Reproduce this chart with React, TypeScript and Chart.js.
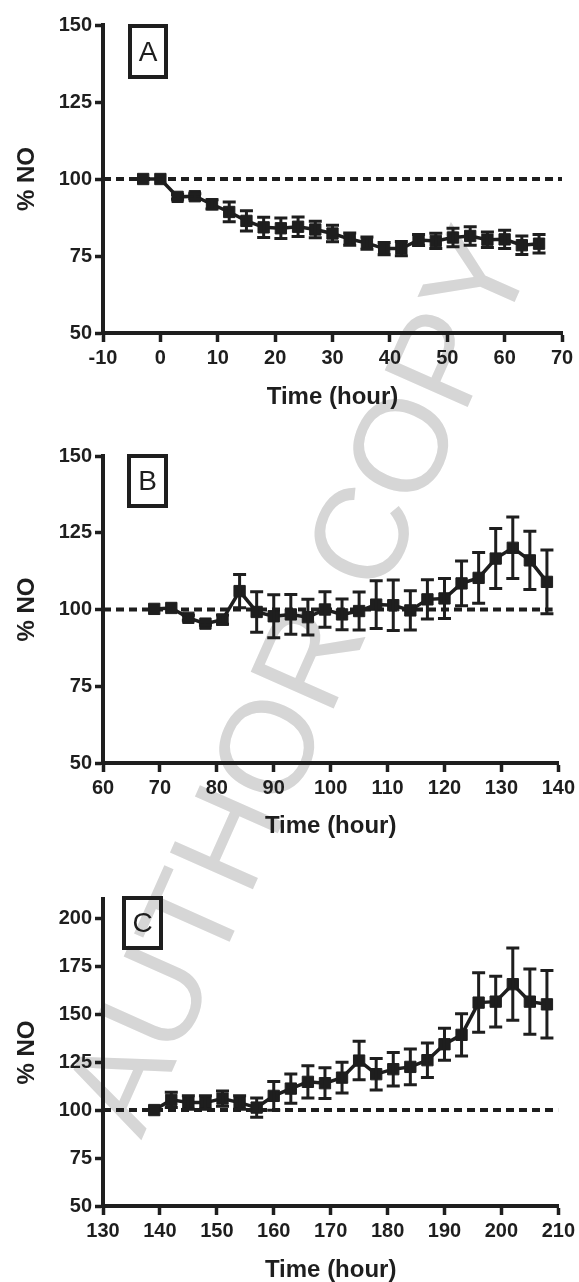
import React, { useEffect, useRef } from "react";
import { Chart, registerables } from "chart.js";

Chart.register(...registerables);

// ---------- data ----------
const timeA = [-3, 0, 3, 6, 9, 12, 15, 18, 21, 24, 27, 30, 33, 36, 39, 42, 45, 48, 51, 54, 57, 60, 63, 66];
const meanA = [100, 100, 94.2, 94.4, 91.8, 89.3, 86.4, 84.3, 84.0, 84.5, 83.6, 82.3, 80.5, 79.2, 77.4, 77.4, 80.2, 79.9, 81.0, 81.5, 80.3, 80.4, 78.5, 79.0];
const semA = [0, 0, 0.8, 0.8, 1.5, 3.2, 3.3, 3.3, 3.3, 3.2, 2.7, 2.7, 2.0, 2.0, 2.0, 2.3, 1.8, 2.5, 3.0, 3.0, 2.5, 3.0, 3.0, 3.0];

const timeB = [69, 72, 75, 78, 81, 84, 87, 90, 93, 96, 99, 102, 105, 108, 111, 114, 117, 120, 123, 126, 129, 132, 135, 138];
const meanB = [100.2, 100.5, 97.3, 95.4, 96.7, 106.0, 99.2, 97.8, 98.4, 97.5, 100.0, 98.4, 99.5, 101.6, 101.4, 99.7, 103.3, 103.6, 108.5, 110.3, 116.6, 120.1, 116.0, 109.0];
const semB = [0, 0, 0.8, 0.5, 1.5, 5.4, 6.6, 7.0, 6.5, 5.8, 5.8, 5.0, 6.2, 7.8, 8.2, 6.4, 6.4, 6.5, 7.3, 8.3, 9.8, 10.0, 9.5, 10.4];

const timeC = [139, 142, 145, 148, 151, 154, 157, 160, 163, 166, 169, 172, 175, 178, 181, 184, 187, 190, 193, 196, 199, 202, 205, 208];
const meanC = [100, 105.3, 103.9, 103.9, 106.0, 103.9, 101.3, 107.4, 111.2, 114.7, 114.0, 116.9, 125.8, 118.7, 121.3, 122.5, 126.0, 134.3, 139.2, 156.0, 156.5, 165.6, 156.5, 155.1];
const semC = [0, 4, 3.5, 3.5, 4, 3.5, 5, 7.5, 7.6, 8.4, 8, 8, 10, 8.2, 8.7, 9.3, 9, 8.3, 11, 15.5, 13.2, 18.8, 17, 17.6];

const refXA = [-10, 70];
const refXB = [60, 139];
const refXC = [130, 210];
const refLevel = 100;

const yTicksAB = [50, 75, 100, 125, 150];
const yTicksC = [50, 75, 100, 125, 150, 175, 200];

const xTitle = "Time (hour)";
const yTitle = "% NO";

// ---------- styling ----------
const INK = "#1e1e1e";
const FONT = "'Liberation Sans', Arial, Helvetica, sans-serif";

const errorBarPlugin = {
  id: "errorBars",
  afterDatasetsDraw(chart: any, _args: any, opts: any) {
    const { ctx } = chart;
    const xs = chart.scales.x;
    const ys = chart.scales.y;
    const t: number[] = opts.times || [];
    const m: number[] = opts.means || [];
    const e: number[] = opts.errs || [];
    ctx.save();
    ctx.strokeStyle = INK;
    ctx.lineWidth = 3;
    ctx.lineCap = "butt";
    for (let i = 0; i < t.length; i++) {
      if (!e[i]) continue;
      const px = xs.getPixelForValue(t[i]);
      const top = ys.getPixelForValue(m[i] + e[i]);
      const bot = ys.getPixelForValue(m[i] - e[i]);
      ctx.beginPath();
      ctx.moveTo(px, top);
      ctx.lineTo(px, bot);
      ctx.moveTo(px - 6.5, top);
      ctx.lineTo(px + 6.5, top);
      ctx.moveTo(px - 6.5, bot);
      ctx.lineTo(px + 6.5, bot);
      ctx.stroke();
    }
    ctx.restore();
  },
};

type PanelProps = {
  top: number;
  height: number;
  plotTop: number;
  plotBottom: number;
  titleY: number;
  xMin: number;
  xMax: number;
  yMin: number;
  yMax: number;
  yTicks: number[];
  times: number[];
  means: number[];
  errs: number[];
  refX: number[];
  letter: string;
  box: { left: number; top: number; w: number; h: number };
};

function Panel(p: PanelProps) {
  const ref = useRef<HTMLCanvasElement | null>(null);
  useEffect(() => {
    if (!ref.current) return;
    const padTop = p.plotTop - p.top;
    const xAxisH = p.titleY + 14.4 - p.plotBottom;
    const padBottom = p.height - (p.titleY + 14.4 - p.top);
    const tickFont = { family: FONT, size: 20, weight: "bold" as const };
    const titleFont = { family: FONT, size: 24, weight: "bold" as const };
    const chart = new Chart(ref.current, {
      type: "line",
      data: {
        datasets: [
          {
            data: p.refX.map((x) => ({ x, y: refLevel })),
            borderColor: INK,
            borderWidth: 4,
            borderDash: [8, 5],
            pointRadius: 0,
            fill: false,
            order: 2,
          },
          {
            data: p.times.map((x, i) => ({ x, y: p.means[i] })),
            borderColor: INK,
            borderWidth: 3.5,
            pointStyle: "rect",
            pointRadius: 8,
            pointBorderWidth: 1,
            pointBackgroundColor: INK,
            pointBorderColor: INK,
            fill: false,
            tension: 0,
            order: 1,
          },
        ],
      },
      options: {
        responsive: false,
        animation: false,
        devicePixelRatio: 1,
        layout: { padding: { top: padTop, right: 17, bottom: padBottom, left: 0 } },
        plugins: {
          legend: { display: false },
          tooltip: { enabled: false },
          errorBars: { times: p.times, means: p.means, errs: p.errs },
        } as any,
        scales: {
          x: {
            type: "linear",
            min: p.xMin,
            max: p.xMax,
            ticks: { stepSize: 10, color: INK, font: tickFont, padding: 4, maxRotation: 0 },
            grid: {
              drawOnChartArea: false,
              drawTicks: true,
              tickLength: 9,
              tickWidth: 3.5,
              tickColor: INK,
            },
            border: { display: true, color: INK, width: 4 },
            title: { display: true, text: xTitle, color: INK, font: titleFont, padding: { top: 0, bottom: 0 } },
            afterFit: (s: any) => {
              s.height = xAxisH;
            },
          },
          y: {
            type: "linear",
            min: p.yMin,
            max: p.yMax,
            afterBuildTicks: (s: any) => {
              s.ticks = p.yTicks.map((v) => ({ value: v }));
            },
            ticks: { color: INK, font: tickFont, padding: 3 },
            grid: {
              drawOnChartArea: false,
              drawTicks: true,
              tickLength: 8,
              tickWidth: 3.5,
              tickColor: INK,
            },
            border: { display: true, color: INK, width: 4 },
            title: { display: true, text: yTitle, color: INK, font: titleFont, padding: { top: 13, bottom: 0 } },
            afterFit: (s: any) => {
              s.width = 103;
            },
          },
        },
      } as any,
      plugins: [errorBarPlugin],
    });
    return () => chart.destroy();
  }, []);

  return (
    <>
      <canvas
        ref={ref}
        width={579}
        height={p.height}
        style={{ position: "absolute", left: 0, top: p.top, width: 579, height: p.height, zIndex: 1, display: "block" }}
      />
      <div
        style={{
          position: "absolute",
          left: p.box.left,
          top: p.box.top,
          width: p.box.w,
          height: p.box.h,
          border: `4px solid ${INK}`,
          boxSizing: "border-box",
          display: "flex",
          alignItems: "center",
          justifyContent: "center",
          fontFamily: FONT,
          fontSize: 28,
          color: INK,
          zIndex: 2,
          lineHeight: 1,
        }}
      >
        {p.letter}
      </div>
    </>
  );
}

export default function App() {
  return (
    <div style={{ position: "absolute", left: 0, top: 0, width: 579, height: 1282, background: "#fff", overflow: "hidden" }}>
      <div
        style={{
          position: "absolute",
          left: 297,
          top: 680,
          transform: "translate(-50%, -50%) rotate(-66deg)",
          fontFamily: FONT,
          fontSize: 132,
          color: "#d6d6d6",
          whiteSpace: "nowrap",
          zIndex: 0,
          lineHeight: 1,
        }}
      >
        AUTHOR COPY
      </div>
      <Panel
        top={0}
        height={425}
        plotTop={25}
        plotBottom={333}
        titleY={397}
        xMin={-10}
        xMax={70}
        yMin={50}
        yMax={150}
        yTicks={yTicksAB}
        times={timeA}
        means={meanA}
        errs={semA}
        refX={refXA}
        letter="A"
        box={{ left: 128, top: 24, w: 40, h: 55 }}
      />
      <Panel
        top={430}
        height={425}
        plotTop={456}
        plotBottom={763}
        titleY={826}
        xMin={60}
        xMax={140}
        yMin={50}
        yMax={150}
        yTicks={yTicksAB}
        times={timeB}
        means={meanB}
        errs={semB}
        refX={refXB}
        letter="B"
        box={{ left: 127, top: 454, w: 41, h: 54 }}
      />
      <Panel
        top={860}
        height={422}
        plotTop={899}
        plotBottom={1206}
        titleY={1270}
        xMin={130}
        xMax={210}
        yMin={50}
        yMax={210}
        yTicks={yTicksC}
        times={timeC}
        means={meanC}
        errs={semC}
        refX={refXC}
        letter="C"
        box={{ left: 122, top: 896, w: 41, h: 54 }}
      />
    </div>
  );
}
